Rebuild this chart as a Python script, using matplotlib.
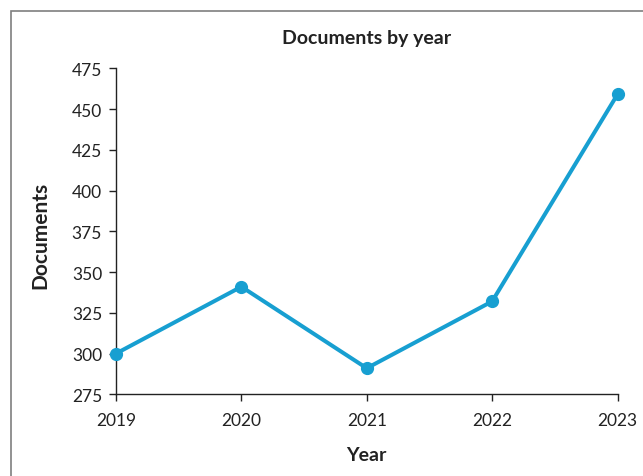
import matplotlib
matplotlib.use("Agg")
import matplotlib.pyplot as plt
from matplotlib.patches import Rectangle

plt.rcParams['font.family'] = ['Lato', 'DejaVu Sans']

# data
years = [2019, 2020, 2021, 2022, 2023]
documents = [300, 341, 291, 332, 459]
y_ticks = [275, 300, 325, 350, 375, 400, 425, 450, 475]

line_color = '#179fd1'
text_color = '#222222'

fig = plt.figure(figsize=(6.43, 4.77), dpi=100)
ax = fig.add_axes([116 / 643, 1 - 395.3 / 477, (617.5 - 116) / 643, (395.3 - 69.3) / 477])

ax.plot(years, documents, color=line_color, linewidth=2.9, marker='o',
        markersize=8.5, clip_on=False, zorder=3)

ax.set_xlim(2019, 2023)
ax.set_ylim(275, 475)
ax.set_xticks(years)
ax.set_xticklabels([str(y) for y in years])
ax.set_yticks(y_ticks)

for side in ['top', 'right']:
    ax.spines[side].set_visible(False)
for side in ['left', 'bottom']:
    ax.spines[side].set_color(text_color)
    ax.spines[side].set_linewidth(1.0)

ax.tick_params(axis='both', direction='out', length=5, width=1.0,
               color=text_color, labelsize=12.5, labelcolor=text_color)
ax.tick_params(axis='x', pad=8)
ax.tick_params(axis='y', pad=5)

ax.set_title('Documents by year', fontsize=14, fontweight='bold',
             color=text_color, pad=18)
ax.set_xlabel('Year', fontsize=14, fontweight='bold', color=text_color)
ax.set_ylabel('Documents', fontsize=15, fontweight='bold', color=text_color)
ax.xaxis.set_label_coords(0.5, -0.158)
ax.yaxis.set_label_coords(-0.13, 0.49)

# outer frame (runs off the right and bottom edges)
frame = Rectangle((11 / 643, -0.1), 1.2, 1 - 12 / 477 + 0.1, transform=fig.transFigure,
                  fill=False, edgecolor='#7f7f7f', linewidth=1.2, clip_on=False)
fig.patches.append(frame)

fig.savefig('out.png', dpi=100)
